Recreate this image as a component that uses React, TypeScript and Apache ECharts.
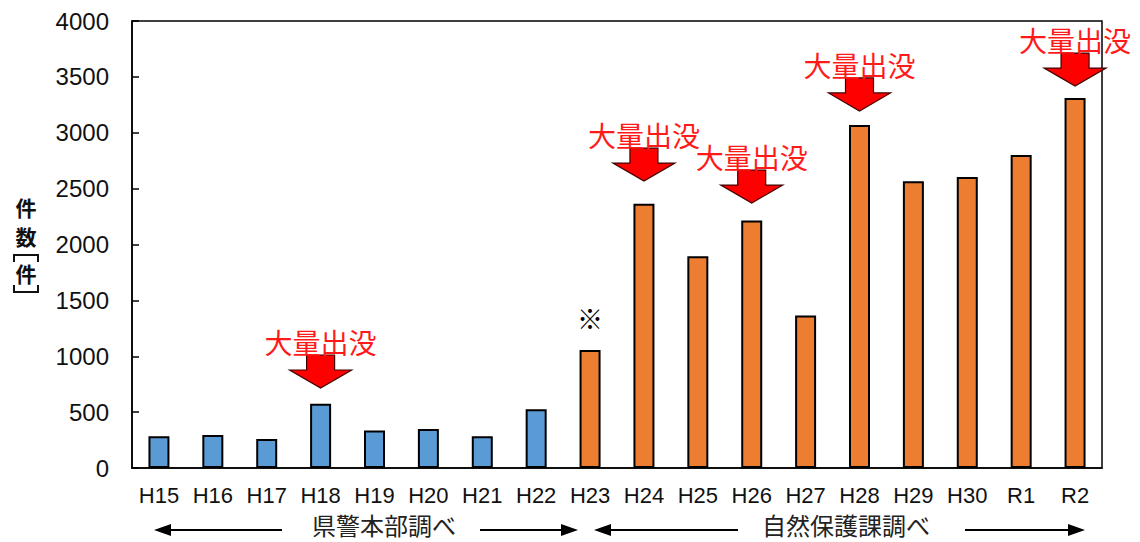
import React, { useEffect, useRef } from "react";
import * as echarts from "echarts";

const categories = ["H15", "H16", "H17", "H18", "H19", "H20", "H21", "H22", "H23", "H24", "H25", "H26", "H27", "H28", "H29", "H30", "R1", "R2"];
// 県警本部調べ (H15–H22)
const policeCounts = [285, 295, 260, 575, 335, 350, 285, 525];
// 自然保護課調べ (H23–R2)
const conservationCounts = [1055, 2365, 1895, 2215, 1365, 3070, 2565, 2605, 2800, 3310];
// 大量出没 annotations: category and arrow-tip value
const outbreakYears = ["H18", "H24", "H26", "H28", "R2"];
const outbreakArrowTips = [716, 2568, 2371, 3195, 3418];
const outbreakLabel = "大量出没";
const noteYears = ["H23"];
const noteValues = [1345];
const noteLabel = "※";
const yMin = 0;
const yMax = 4000;
const yInterval = 500;
const sourceLabels = ["県警本部調べ", "自然保護課調べ"];

const JP = "'Noto Sans CJK JP', 'Noto Sans', sans-serif";
const NUM = "'Liberation Sans', Arial, sans-serif";

function arrowLine(x1: number, x2: number, y: number, dir: "left" | "right") {
  const tip = dir === "left" ? x1 : x2;
  const base = dir === "left" ? x1 + 17 : x2 - 17;
  return [
    {
      type: "line",
      shape: dir === "left" ? { x1: base, y1: y, x2: x2, y2: y } : { x1: x1, y1: y, x2: base, y2: y },
      style: { stroke: "#000", lineWidth: 2 },
    },
    {
      type: "polygon",
      shape: { points: [[tip, y], [base, y - 6], [base, y + 6]] },
      style: { fill: "#000" },
    },
  ];
}

export default function App() {
  const ref = useRef<HTMLDivElement>(null);
  useEffect(() => {
    document.body.style.margin = "0";
    const chart = echarts.init(ref.current!, null, { renderer: "svg" });
    const policeData = categories.map((_, i) => (i < policeCounts.length ? policeCounts[i] : "-"));
    const consData = categories.map((_, i) =>
      i >= policeCounts.length ? conservationCounts[i - policeCounts.length] : "-"
    );
    const arrowData = outbreakYears.map((c, i) => [categories.indexOf(c), outbreakArrowTips[i]]);
    const noteData = noteYears.map((c, i) => [categories.indexOf(c), noteValues[i]]);

    const textY = 524;
    const yNameStyle = { fontSize: 21, fontWeight: "bold", fontFamily: JP, fill: "#111", align: "center", verticalAlign: "middle" };
    chart.setOption({
      animation: false,
      grid: {
        left: 132,
        right: 38,
        top: 21,
        bottom: 74,
        show: true,
        borderColor: "#000",
        borderWidth: 1.5,
      },
      xAxis: {
        type: "category",
        data: categories,
        axisLine: { lineStyle: { color: "#000", width: 1.5 } },
        axisTick: { show: false },
        axisLabel: { color: "#111", fontSize: 22, fontFamily: NUM, margin: 16, interval: 0, hideOverlap: false },
      },
      yAxis: {
        type: "value",
        min: yMin,
        max: yMax,
        interval: yInterval,
        axisLine: { show: true, lineStyle: { color: "#000", width: 1.5 } },
        axisTick: { show: true, inside: true, length: 7, lineStyle: { color: "#000", width: 1.5 } },
        splitLine: { show: false },
        axisLabel: { color: "#111", fontSize: 24, fontFamily: NUM, margin: 23, formatter: (v: number) => String(v) },
      },
      series: [
        {
          type: "bar",
          name: sourceLabels[0],
          data: policeData,
          barWidth: 21,
          barGap: "-100%",
          itemStyle: { color: "#5b9bd5", borderColor: "#000", borderWidth: 2 },
        },
        {
          type: "bar",
          name: sourceLabels[1],
          data: consData,
          barWidth: 21,
          itemStyle: { color: "#ed7d31", borderColor: "#000", borderWidth: 2 },
        },
        {
          type: "custom",
          clip: false,
          z: 10,
          data: arrowData,
          encode: { x: 0, y: 1 },
          renderItem: (_params: any, api: any) => {
            const p = api.coord([api.value(0), api.value(1)]);
            const x = p[0];
            const y = p[1];
            const hw = 31;
            const sw = 14;
            const hh = 18;
            const sh = 15;
            return {
              type: "group",
              children: [
                {
                  type: "polygon",
                  shape: {
                    points: [
                      [x - sw, y - hh - sh],
                      [x + sw, y - hh - sh],
                      [x + sw, y - hh],
                      [x + hw, y - hh],
                      [x, y],
                      [x - hw, y - hh],
                      [x - sw, y - hh],
                    ],
                  },
                  style: { fill: "#ff0000", stroke: "#400000", lineWidth: 1.2 },
                },
                {
                  type: "text",
                  x: x,
                  y: y - 46,
                  style: {
                    text: outbreakLabel,
                    fill: "#ff1a1a",
                    fontSize: 28,
                    fontFamily: JP,
                    align: "center",
                    verticalAlign: "middle",
                  },
                },
              ],
            };
          },
        },
        {
          type: "custom",
          clip: false,
          z: 10,
          data: noteData,
          encode: { x: 0, y: 1 },
          renderItem: (_params: any, api: any) => {
            const p = api.coord([api.value(0), api.value(1)]);
            return {
              type: "text",
              x: p[0],
              y: p[1],
              style: {
                text: noteLabel,
                fill: "#000",
                fontSize: 26,
                fontFamily: JP,
                align: "center",
                verticalAlign: "middle",
              },
            };
          },
        },
      ],
      graphic: [
        { type: "text", x: 26, y: 207, style: { text: "件", ...yNameStyle } },
        { type: "text", x: 26, y: 236, style: { text: "数", ...yNameStyle } },
        { type: "polyline", shape: { points: [[14, 262], [14, 255], [38, 255], [38, 262]] }, style: { stroke: "#111", lineWidth: 2, fill: null } },
        { type: "text", x: 26, y: 273, style: { text: "件", ...yNameStyle } },
        { type: "polyline", shape: { points: [[14, 285], [14, 292], [38, 292], [38, 285]] }, style: { stroke: "#111", lineWidth: 2, fill: null } },
        ...arrowLine(154, 282, textY + 6, "left"),
        { type: "text", x: 384, y: textY, style: { text: sourceLabels[0], fontSize: 24, fontFamily: JP, fill: "#222", align: "center", verticalAlign: "middle" } },
        ...arrowLine(480, 578, textY + 6, "right"),
        ...arrowLine(594, 738, textY + 6, "left"),
        { type: "text", x: 846, y: textY, style: { text: sourceLabels[1], fontSize: 24, fontFamily: JP, fill: "#222", align: "center", verticalAlign: "middle" } },
        ...arrowLine(965, 1085, textY + 6, "right"),
      ],
    });
    return () => chart.dispose();
  }, []);
  return <div ref={ref} style={{ width: 1140, height: 542 }} />;
}
